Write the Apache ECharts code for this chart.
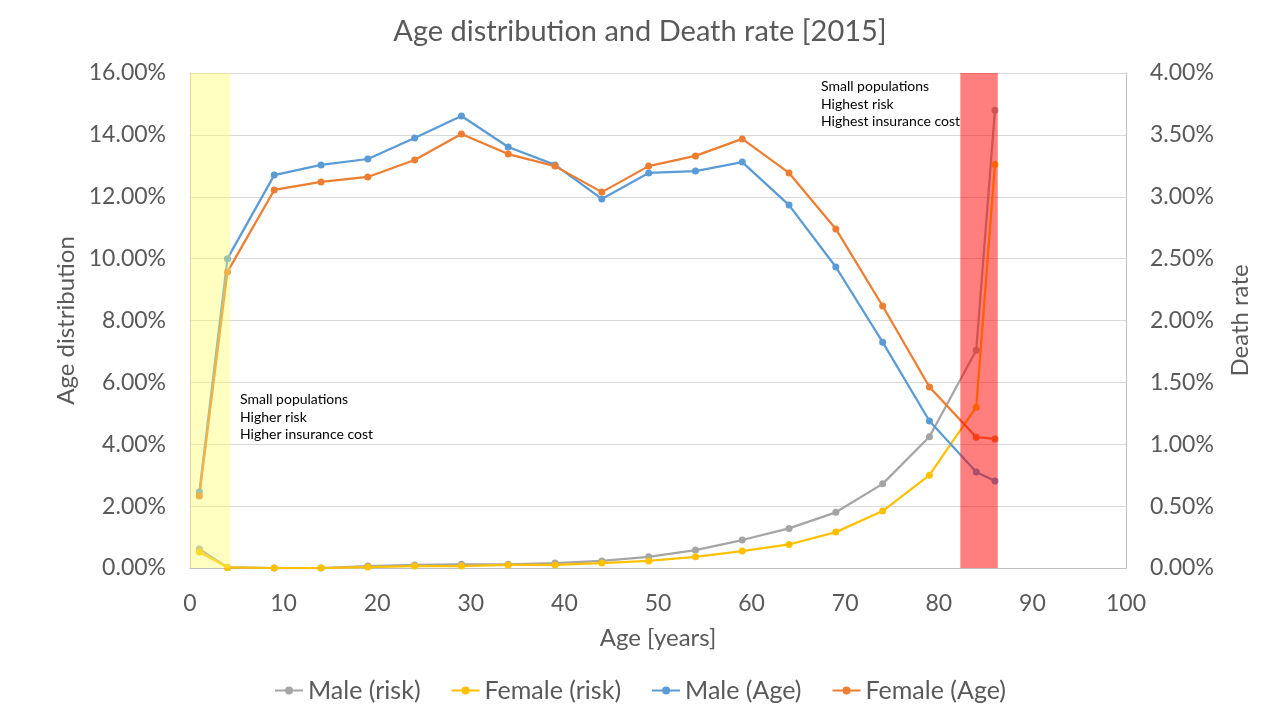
<!DOCTYPE html>
<html>
<head>
<meta charset="utf-8">
<script src="https://cdn.jsdelivr.net/npm/echarts@6/dist/echarts.min.js"></script>
<style>html,body{margin:0;padding:0;background:#fff}#c{width:1280px;height:720px}</style>
</head>
<body>
<div id="c"></div>
<script>
var ages = [1, 4, 9, 14, 19, 24, 29, 34, 39, 44, 49, 54, 59, 64, 69, 74, 79, 84, 86];
var maleRisk = [0.154, 0.005, 0.0, 0.0, 0.016, 0.025, 0.03, 0.03, 0.04, 0.057, 0.09, 0.145, 0.226, 0.32, 0.45, 0.68, 1.06, 1.76, 3.70];
var femaleRisk = [0.13, 0.005, 0.0, 0.0, 0.008, 0.016, 0.016, 0.025, 0.025, 0.04, 0.057, 0.09, 0.137, 0.19, 0.29, 0.46, 0.75, 1.30, 3.26];
var maleAge = [2.46, 10.0, 12.70, 13.03, 13.22, 13.90, 14.61, 13.61, 13.03, 11.93, 12.77, 12.83, 13.12, 11.73, 9.73, 7.30, 4.75, 3.10, 2.81];
var femaleAge = [2.33, 9.57, 12.22, 12.48, 12.64, 13.19, 14.03, 13.38, 12.99, 12.15, 12.99, 13.32, 13.87, 12.77, 10.96, 8.47, 5.85, 4.23, 4.17];
var youngBand = [0, 4.3];
var oldBand = [82.3, 86.3];
var noteYoung = ['Small populations', 'Higher risk', 'Higher insurance cost'];
var noteOld = ['Small populations', 'Highest risk', 'Highest insurance cost'];

function pairs(ys) { return ages.map(function (a, i) { return [a, ys[i]]; }); }
var F = 'Lato, "Open Sans", sans-serif';
var TXT = '#595959';

var chart = echarts.init(document.getElementById('c'));
function lineSeries(name, ys, color, axis) {
  return {
    name: name, type: 'line', yAxisIndex: axis, data: pairs(ys),
    symbol: 'circle', symbolSize: 7, showSymbol: true,
    lineStyle: { color: color, width: 2.25 },
    itemStyle: { color: color },
    emphasis: { disabled: true }, animation: false, z: 3
  };
}
function pct(v) { return v.toFixed(2) + '%'; }
chart.setOption({
  animation: false,
  title: {
    text: 'Age distribution and Death rate [2015]', left: 'center', top: 12,
    textStyle: { fontFamily: F, fontSize: 29, fontWeight: 'normal', color: TXT }
  },
  grid: { left: 190, right: 154, top: 73, bottom: 152, containLabel: false },
  legend: {
    bottom: 12, left: 'center', itemGap: 30, itemWidth: 28, itemHeight: 10,
    textStyle: { fontFamily: F, fontSize: 25, color: TXT },
    data: ['Male (risk)', 'Female (risk)', 'Male (Age)', 'Female (Age)']
  },
  xAxis: {
    type: 'value', min: 0, max: 100, interval: 10,
    name: 'Age [years]', nameLocation: 'middle', nameGap: 58,
    nameTextStyle: { fontFamily: F, fontSize: 24, color: TXT },
    axisLine: { show: true, lineStyle: { color: '#bfbfbf' } },
    axisTick: { show: false },
    axisLabel: { fontFamily: F, fontSize: 23, color: TXT, margin: 24 },
    splitLine: { show: false }
  },
  yAxis: [{
    type: 'value', min: 0, max: 16, interval: 2, position: 'left',
    name: 'Age distribution', nameLocation: 'middle', nameGap: 112, nameRotate: 90,
    nameTextStyle: { fontFamily: F, fontSize: 24, color: TXT },
    axisLine: { show: true, lineStyle: { color: '#bfbfbf' } },
    axisTick: { show: false },
    axisLabel: { fontFamily: F, fontSize: 23, color: TXT, margin: 24, formatter: pct },
    splitLine: { show: true, lineStyle: { color: '#d9d9d9' } }
  }, {
    type: 'value', min: 0, max: 4, interval: 0.5, position: 'right',
    name: 'Death rate', nameLocation: 'middle', nameGap: 102, nameRotate: 90,
    nameTextStyle: { fontFamily: F, fontSize: 24, color: TXT },
    axisLine: { show: true, lineStyle: { color: '#bfbfbf' } },
    axisTick: { show: false },
    axisLabel: { fontFamily: F, fontSize: 23, color: TXT, margin: 24, formatter: pct },
    splitLine: { show: false }
  }],
  series: [
    lineSeries('Male (risk)', maleRisk, '#A5A5A5', 1),
    lineSeries('Female (risk)', femaleRisk, '#FFC000', 1),
    lineSeries('Male (Age)', maleAge, '#5B9BD5', 0),
    lineSeries('Female (Age)', femaleAge, '#ED7D31', 0),
    {
      name: 'bands', type: 'line', data: [], z: 10, silent: true,
      markArea: {
        silent: true, z: 10,
        data: [
          [{ xAxis: youngBand[0], itemStyle: { color: 'rgba(255,255,100,0.4)' } }, { xAxis: youngBand[1] }],
          [{ xAxis: oldBand[0], itemStyle: { color: 'rgba(255,0,0,0.5)' } }, { xAxis: oldBand[1] }]
        ]
      }
    }
  ],
  graphic: [
    { type: 'text', left: 240, top: 391, z: 20, style: { text: noteYoung.join('\n'), font: '14px ' + F, fill: '#000', lineHeight: 17.5 } },
    { type: 'text', left: 821, top: 78, z: 20, style: { text: noteOld.join('\n'), font: '14px ' + F, fill: '#000', lineHeight: 17.5 } }
  ]
});
</script>
</body>
</html>
